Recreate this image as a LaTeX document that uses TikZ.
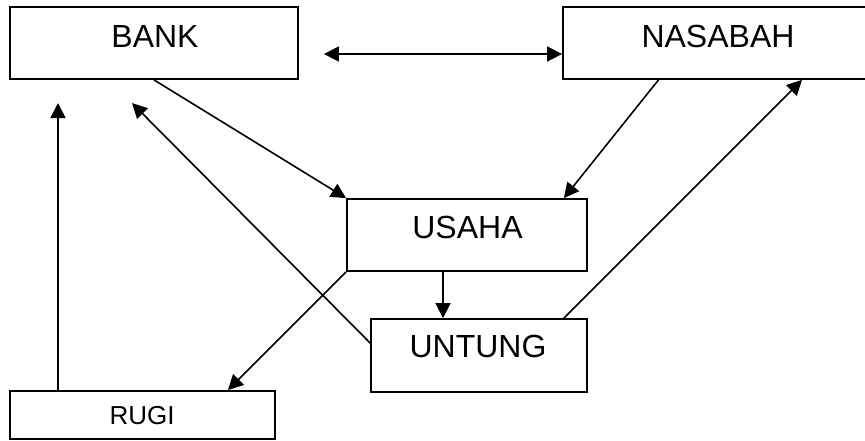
\documentclass[tikz,border=0pt]{standalone}
\usepackage{fontspec}
\setmainfont{Liberation Sans}
\usetikzlibrary{arrows.meta}
\begin{document}
\begin{tikzpicture}[x=1pt,y=-1pt,
    kotak/.style={draw,line width=1.8pt,rectangle,inner sep=0pt},
    tulisan/.style={inner sep=0pt,font=\fontsize{32}{36}\selectfont},
    panah/.style={line width=1.6pt,-{Triangle[length=15pt,width=15pt]}}]
                    \useasboundingbox[fill=white] (0,0) rectangle (865,440);
                    \node[kotak,minimum width=288pt,minimum height=72pt] (bank) at (154,43) {};
                    \node[kotak,minimum width=307pt,minimum height=72pt] (nasabah) at (716.5,43) {};
                    \node[kotak,minimum width=240pt,minimum height=72pt] (usaha) at (467,235) {};
                    \node[kotak,minimum width=216pt,minimum height=73pt] (untung) at (479,355.5) {};
                    \node[kotak,minimum width=265pt,minimum height=48pt] (rugi) at (142.5,415) {};
                    \node[tulisan] (bank-t) at (155,36) {BANK};
                    \node[tulisan] (nasabah-t) at (718,36) {NASABAH};
                    \node[tulisan] (usaha-t) at (467.5,227) {USAHA};
                    \node[tulisan] (untung-t) at (478,346) {UNTUNG};
                    \node[tulisan,font=\fontsize{26}{30}\selectfont] (rugi-t) at (142,416) {RUGI};
                    \coordinate (bank-in1) at (58,103);
                    \coordinate (bank-in2) at (132,103);
                    \draw[panah,{Triangle[length=15pt,width=15pt]}-{Triangle[length=15pt,width=15pt]}] ([xshift=25pt,yshift=-11pt]bank.east) -- ([yshift=-11pt]nasabah.west);
                    \draw[panah] (bank.south) -- (usaha.north west);
                    \draw[panah] ([xshift=-58pt]nasabah.south) -- ([xshift=-24pt]usaha.north east);
                    \draw[panah] ([xshift=-24pt]usaha.south) -- ([xshift=-24pt]usaha.south |- untung.north);
                    \draw[panah] (usaha.south west) -- ([xshift=-48pt]rugi.north east);
                    \draw[panah] ([yshift=12.5pt]untung.west) -- (bank-in2);
                    \draw[panah] ([xshift=-24pt]untung.north east) -- ([xshift=85.5pt]nasabah.south);
                    \draw[panah] ([xshift=-84.5pt]rugi.north) -- (bank-in1);
                \end{tikzpicture}
\end{document}
